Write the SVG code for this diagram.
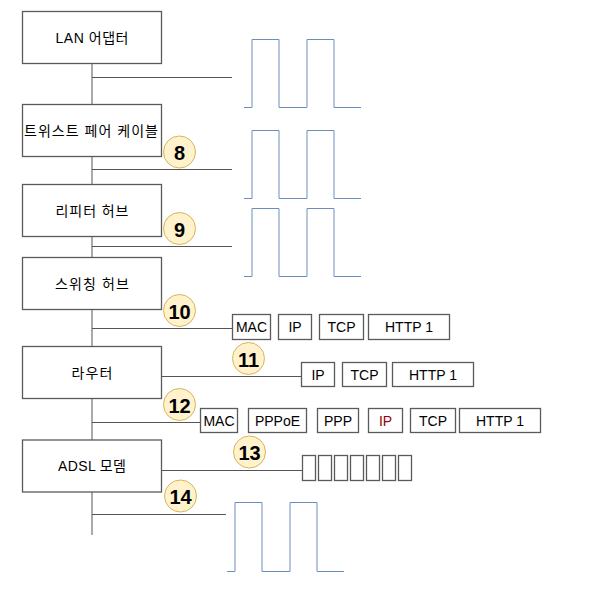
<svg xmlns="http://www.w3.org/2000/svg" width="616" height="600" viewBox="0 0 616 600">
<style>
.node rect{fill:#fff;stroke:#5a5a5a;stroke-width:1.3}
.t{font-family:"Liberation Sans","Noto Sans CJK KR",sans-serif;font-size:14px;fill:#000;text-anchor:middle;dominant-baseline:central}
.badge circle{fill:#FFF2CC;stroke:#D6B656;stroke-width:1}
.badge text{font-family:"Liberation Sans",Arial,sans-serif;font-weight:bold;font-size:20px;fill:#000;text-anchor:middle;dominant-baseline:central}
.conn line{stroke:#555;stroke-width:1}
.pulse{fill:none;stroke:#6C8EBF;stroke-width:1}
</style>
<rect width="616" height="600" fill="#fff"/>
<g id="connectors" class="conn">
<line x1="92" y1="63" x2="92" y2="535"/>
<line x1="92" y1="77.5" x2="232" y2="77.5"/>
<line x1="92" y1="169.5" x2="232" y2="169.5"/>
<line x1="92" y1="246.5" x2="232" y2="246.5"/>
<line x1="92" y1="328.5" x2="232" y2="328.5"/>
<line x1="162" y1="376.5" x2="301" y2="376.5"/>
<line x1="92" y1="422.5" x2="200" y2="422.5"/>
<line x1="162" y1="470.5" x2="302" y2="470.5"/>
<line x1="92" y1="514.5" x2="226" y2="514.5"/>
</g>
<g id="n1" class="node"><rect x="22.5" y="11.5" width="139" height="52"/><text class="t" x="92" y="37.5" textLength="73" lengthAdjust="spacing">LAN 어댑터</text></g>
<g id="n2" class="node"><rect x="22.5" y="104.5" width="139" height="52"/><text class="t" x="91" y="131" textLength="134" lengthAdjust="spacing">트위스트 페어 케이블</text></g>
<g id="n3" class="node"><rect x="22.5" y="184.5" width="139" height="52"/><text class="t" x="92" y="210.5" textLength="73" lengthAdjust="spacing">리피터 허브</text></g>
<g id="n4" class="node"><rect x="22.5" y="257.5" width="139" height="52"/><text class="t" x="92" y="283.5" textLength="74" lengthAdjust="spacing">스위칭 허브</text></g>
<g id="n5" class="node"><rect x="22.5" y="346.5" width="139" height="52"/><text class="t" x="92" y="372.5" textLength="41" lengthAdjust="spacing">라우터</text></g>
<g id="n6" class="node"><rect x="22.5" y="440" width="139" height="52"/><text class="t" x="92" y="466" textLength="68" lengthAdjust="spacing">ADSL 모뎀</text></g>
<g id="pulses">
<path class="pulse" d="M244,107.5 H252 V39.5 H279 V107.5 H307 V39.5 H334 V107.5 H361"/>
<path class="pulse" d="M244,198.5 H252 V130.5 H279 V198.5 H307 V130.5 H334 V198.5 H361"/>
<path class="pulse" d="M244,276.5 H252 V208.5 H279 V276.5 H307 V208.5 H334 V276.5 H361"/>
<path class="pulse" d="M227,571.5 H235 V502.5 H262 V571.5 H290 V502.5 H317 V571.5 H344"/>
</g>
<g id="row10" class="node">
<rect x="232.5" y="314.5" width="38" height="25"/><text class="t" x="251.5" y="327">MAC</text>
<rect x="278.5" y="314.5" width="33" height="25"/><text class="t" x="295" y="327">IP</text>
<rect x="319.5" y="314.5" width="44" height="25"/><text class="t" x="341.5" y="327">TCP</text>
<rect x="368.5" y="314.5" width="81" height="25"/><text class="t" x="409" y="327">HTTP 1</text>
</g>
<g id="row11" class="node">
<rect x="301.5" y="362.5" width="33" height="24"/><text class="t" x="318" y="374.5">IP</text>
<rect x="342.5" y="362.5" width="44" height="24"/><text class="t" x="364.5" y="374.5">TCP</text>
<rect x="392.5" y="362.5" width="81" height="24"/><text class="t" x="433" y="374.5">HTTP 1</text>
</g>
<g id="row12" class="node">
<rect x="200.5" y="408.5" width="37" height="24"/><text class="t" x="219" y="420.5">MAC</text>
<rect x="248.5" y="408.5" width="58" height="24"/><text class="t" x="277.5" y="420.5">PPPoE</text>
<rect x="317.5" y="408.5" width="41" height="24"/><text class="t" x="338" y="420.5">PPP</text>
<rect x="368.5" y="408.5" width="34" height="24"/><text class="t" x="385.5" y="420.5" style="fill:#990000">IP</text>
<rect x="410.5" y="408.5" width="45" height="24"/><text class="t" x="433" y="420.5">TCP</text>
<rect x="459.5" y="408.5" width="81" height="24"/><text class="t" x="500" y="420.5">HTTP 1</text>
</g>
<g id="row13" class="node">
<rect x="302.5" y="455.5" width="13" height="25"/>
<rect x="318.5" y="455.5" width="13" height="25"/>
<rect x="334.5" y="455.5" width="13" height="25"/>
<rect x="350.5" y="455.5" width="13" height="25"/>
<rect x="366.5" y="455.5" width="13" height="25"/>
<rect x="382.5" y="455.5" width="13" height="25"/>
<rect x="398.5" y="455.5" width="13" height="25"/>
</g>
<g id="b8" class="badge"><circle cx="179.5" cy="152" r="16"/><text x="179.5" y="153">8</text></g>
<g id="b9" class="badge"><circle cx="179.5" cy="228.5" r="16"/><text x="179.5" y="229.5">9</text></g>
<g id="b10" class="badge"><circle cx="179.5" cy="310.5" r="16"/><text x="179.5" y="311.5">10</text></g>
<g id="b11" class="badge"><circle cx="248.5" cy="358.5" r="16"/><text x="248.5" y="359.5">11</text></g>
<g id="b12" class="badge"><circle cx="179.5" cy="404.5" r="16"/><text x="179.5" y="405.5">12</text></g>
<g id="b13" class="badge"><circle cx="249.5" cy="452" r="16"/><text x="249.5" y="453">13</text></g>
<g id="b14" class="badge"><circle cx="180.5" cy="496" r="16"/><text x="180.5" y="497">14</text></g>
</svg>
